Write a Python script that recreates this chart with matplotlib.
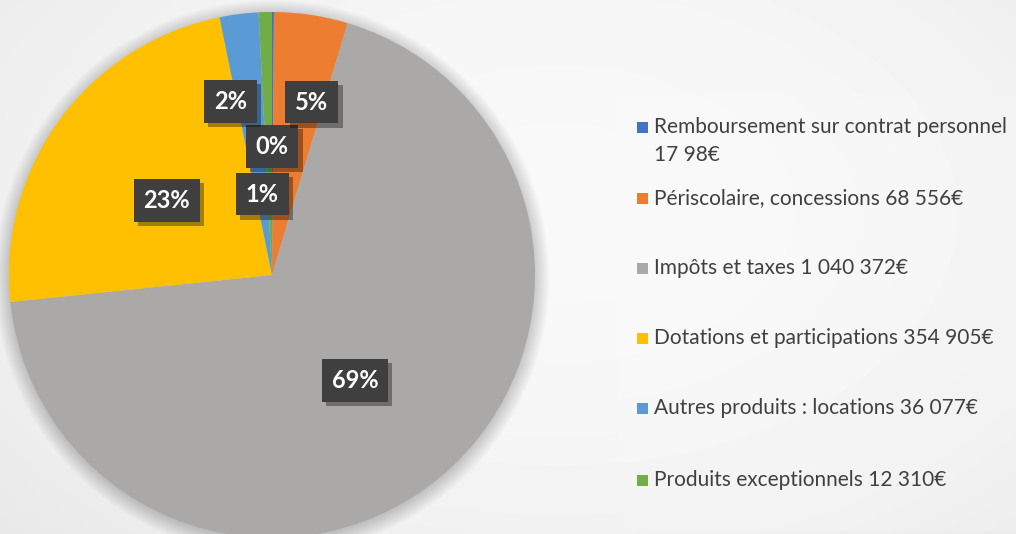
import numpy as np
import matplotlib
matplotlib.use("Agg")
import matplotlib.pyplot as plt
from matplotlib.patches import Rectangle, Circle
import matplotlib.patheffects as pe

# data
labels = ["Remboursement sur contrat personnel\n17 98€",
          "Périscolaire, concessions 68 556€",
          "Impôts et taxes 1 040 372€",
          "Dotations et participations 354 905€",
          "Autres produits : locations 36 077€",
          "Produits exceptionnels 12 310€"]
values = [1798, 68556, 1040372, 354905, 36077, 12310]
colors = ["#4472C4", "#ED7D31", "#ABA9A8", "#FEC000", "#5B9BD5", "#70AD47"]

# label placement (fraction of radius, angle shift in degrees) - like the manual Excel layout
label_dist = [0.49, 0.675, 0.51, 0.49, 0.68, 0.31]
label_shift = [0.2, -4.4, -1.3, 1.0, 6.3, 5.5]

FONT = ["Lato", "DejaVu Sans"]
W, H = 1016, 534

fig = plt.figure(figsize=(W / 100, H / 100), dpi=100)

# background gradient
bg = fig.add_axes([0, 0, 1, 1])
yy, xx = np.mgrid[0:H, 0:W]
shade = 0.975 - 0.09 * ((xx / W - 0.55) ** 2 * 1.3 + (yy / H - 0.4) ** 2 * 0.9)
shade = np.clip(shade, 0.87, 0.98)
bg.imshow(shade, cmap="gray", vmin=0, vmax=1, extent=[0, W, H, 0], aspect="auto")
bg.add_patch(Rectangle((618, 95), W - 618, 435, facecolor="white", alpha=0.15, lw=0))
bg.set_xlim(0, W)
bg.set_ylim(H, 0)
bg.axis("off")

# pie axes: centre (272, 275) px, radius 263 px
R = 263
cx, cy = 272, 275
ax = fig.add_axes([(cx - R) / W, (H - cy - R) / H, 2 * R / W, 2 * R / H])

# soft shadow round the pie
for i in range(12):
    ax.add_patch(Circle((0.0, -0.01), 1 + i * 0.005, facecolor="black",
                        alpha=0.015, lw=0, zorder=0, clip_on=False))

wedges, _ = ax.pie(values, colors=colors, startangle=90, counterclock=False,
                   radius=1, wedgeprops=dict(linewidth=0), normalize=True)
for w in wedges:
    w.set_zorder(1)
    w.set_clip_on(False)
ax.set_xlim(-1, 1)
ax.set_ylim(-1, 1)
ax.set_aspect("equal")
ax.axis("off")

total = sum(values)
for w, v, d, s in zip(wedges, values, label_dist, label_shift):
    ang = np.deg2rad((w.theta1 + w.theta2) / 2 + s)
    x, y = d * np.cos(ang), d * np.sin(ang)
    t = ax.text(x, y, f"{round(v / total * 100)}%", ha="center", va="center",
                fontsize=17, fontweight="bold", family=FONT, color="white", zorder=4,
                bbox=dict(boxstyle="square,pad=0.42", facecolor="#3f3f3f", lw=0))
    t.get_bbox_patch().set_path_effects(
        [pe.SimplePatchShadow(offset=(3, -3), alpha=0.35, shadow_rgbFace="black"), pe.Normal()])

# legend drawn by hand
leg_y = [141, 198, 268, 338, 408, 480]
for lab, col, y in zip(labels, colors, leg_y):
    first_y = y - 14 if "\n" in lab else y
    bg.add_patch(Rectangle((637, first_y - 5.5), 11, 11, facecolor=col, lw=0))
    bg.text(654, y, lab, ha="left", va="center", fontsize=15, family=FONT,
            color="#404040", linespacing=1.55)

fig.savefig("out.png", dpi=100)
